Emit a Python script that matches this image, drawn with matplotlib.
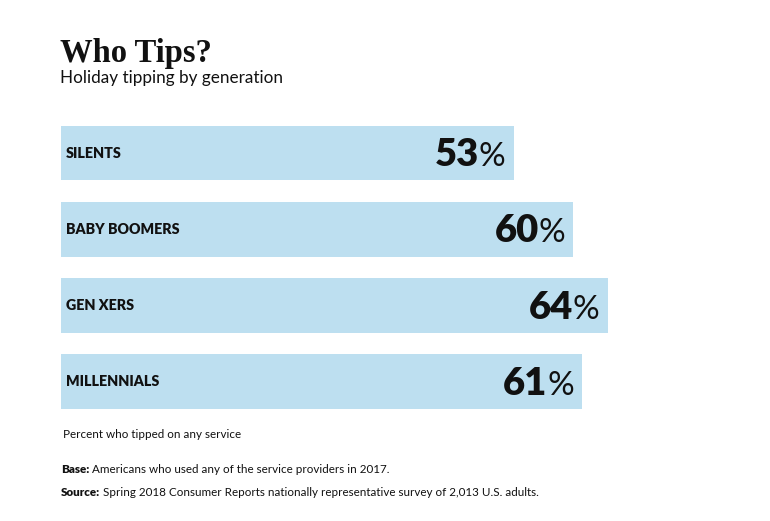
import matplotlib
matplotlib.use("Agg")
import matplotlib.pyplot as plt
from matplotlib.transforms import offset_copy

# данные
generations = ["SILENTS", "BABY BOOMERS", "GEN XERS", "MILLENNIALS"]
tipped = [53, 60, 64, 61]

title = "Who Tips?"
subtitle = "Holiday tipping by generation"
note = "Percent who tipped on any service"
base_label, base_text = "Base:", " Americans who used any of the service providers in 2017."
source_label, source_text = "Source:", " Spring 2018 Consumer Reports nationally representative survey of 2,013 U.S. adults."

bar_color = "#bddff0"
ink = "#111111"
sans = ["Lato", "DejaVu Sans"]

W, H = 770, 521
fig = plt.figure(figsize=(W / 100, H / 100), dpi=100)
ax = fig.add_axes([0, 0, 1, 1])

# масштаб: пиксели на процент, начало баров x=61
px_per = 8.54
x0 = 61
ax.set_xlim(-x0 / px_per, (W - x0) / px_per)
step = 76.3
y0 = 153
ax.set_ylim((H - y0) / step, -y0 / step)
ax.axis("off")

pos = list(range(len(generations)))
ax.barh(pos, tipped, height=0.72, color=bar_color, left=0)

fig.canvas.draw()
r = fig.canvas.get_renderer()

for i, (name, v) in enumerate(zip(generations, tipped)):
    ax.text(0.6, i, name, ha="left", va="center", fontsize=10.3,
            fontweight="heavy", family=sans, color=ink)
    tr = offset_copy(ax.transData, fig=fig, x=-8, y=0, units="dots")
    pct = ax.text(v, i + 0.17, "%", ha="right", va="baseline", fontsize=24,
                  family=sans, color=ink, transform=tr)
    w = pct.get_window_extent(r).width
    tr2 = offset_copy(ax.transData, fig=fig, x=-8 - w, y=0, units="dots")
    ax.text(v, i + 0.17, str(v), ha="right", va="baseline", fontsize=27.5,
            fontweight="heavy", family=sans, color=ink, transform=tr2)

fig.text(60 / W, 1 - 62 / H, title, fontsize=23.5, fontweight="bold",
         family=["Liberation Serif", "DejaVu Serif"], color=ink, va="baseline")
fig.text(60 / W, 1 - 83 / H, subtitle, fontsize=12.3, family=sans,
         color=ink, va="baseline")
fig.text(63 / W, 1 - 438 / H, note, fontsize=8.4, family=sans,
         color=ink, va="baseline")


def runs(x, y, label, text):
    t = fig.text(x / W, 1 - y / H, label, fontsize=8.35, fontweight="heavy",
                 family=sans, color=ink, va="baseline")
    w = t.get_window_extent(r).width
    fig.text((x + w) / W, 1 - y / H, text, fontsize=8.35, family=sans,
             color=ink, va="baseline")


runs(61, 473, base_label, base_text)
runs(61, 496, source_label, source_text)

fig.savefig("out.png", dpi=100, facecolor="white")
